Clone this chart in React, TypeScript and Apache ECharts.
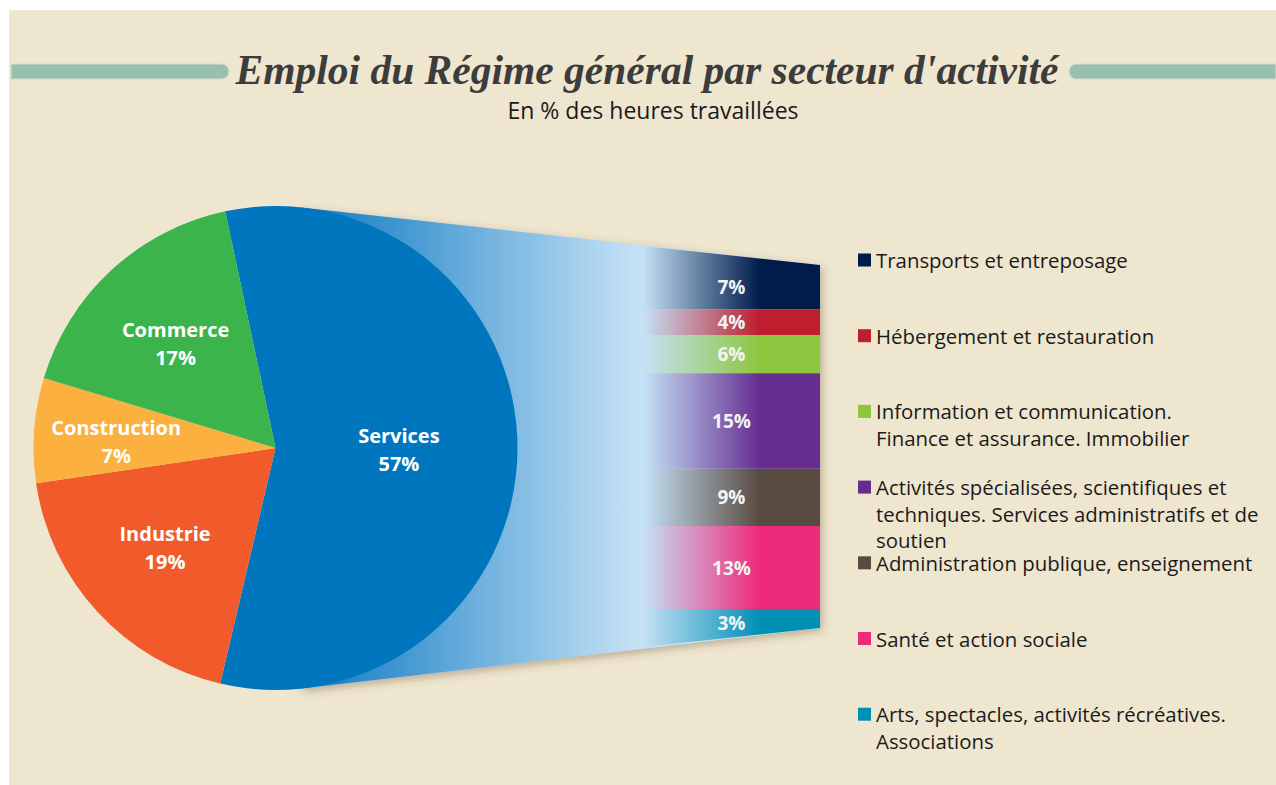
import React, { useEffect, useRef } from "react";
import * as echarts from "echarts";

// ---- Data ----
const pieCategories = ["Services", "Industrie", "Construction", "Commerce"];
const pieValues = [57, 19, 7, 17];
const pieColors = ["#0076BF", "#F15A2B", "#FBB040", "#3BB44B"];

const serviceCategories = [
  "Transports et entreposage",
  "Hébergement et restauration",
  "Information et communication.\nFinance et assurance. Immobilier",
  "Activités spécialisées, scientifiques et\ntechniques. Services administratifs et de\nsoutien",
  "Administration publique, enseignement",
  "Santé et action sociale",
  "Arts, spectacles, activités récréatives.\nAssociations",
];
const serviceValues = [7, 4, 6, 15, 9, 13, 3];
const serviceColors = ["#001C4B", "#BE1E2D", "#8DC63F", "#662D91", "#594A42", "#EE2A7B", "#0090B6"];

const titleText = "Emploi du Régime général par secteur d'activité";
const subtitleText = "En % des heures travaillées";

// ---- Layout constants ----
const W = 1276;
const H = 785;
const PIE_CX = 275.5;
const PIE_CY = 448;
const PIE_R = 242;
const BAR_LEFT = 643;
const BAR_RIGHT = 820;
const BAR_TOP = 265;
const BAR_BOTTOM = 628;
const SLANT = 19;
const labelRadius = [0.51, 0.62, 0.66, 0.61];
const labelShiftY = [0, -2, 5, 4];
const LEGEND_TOP = 260;
const LEGEND_STEP = 75.7;
const LEGEND_LINE = 26.5;

export default function App() {
  const ref = useRef<HTMLDivElement>(null);

  useEffect(() => {
    if (!ref.current) return;
    const chart = echarts.init(ref.current, null, { renderer: "svg" });

    const total = serviceValues.reduce((a, b) => a + b, 0);
    let acc = 0;
    const barData = serviceValues.map((v) => {
      const row = [0, acc, acc + v, v];
      acc += v;
      return row;
    });

    // Tangent points of the connector on the pie
    const mTop = SLANT / (BAR_RIGHT - BAR_LEFT);
    const tTop = Math.atan(mTop);
    const tangentTop = [PIE_CX + PIE_R * Math.sin(tTop), PIE_CY - PIE_R * Math.cos(tTop)];
    const tangentBottom = [PIE_CX + PIE_R * Math.sin(tTop), PIE_CY + PIE_R * Math.cos(tTop)];

    const legendGraphics: any[] = [];
    serviceCategories.forEach((name, i) => {
      const cy = LEGEND_TOP + i * LEGEND_STEP;
      legendGraphics.push({
        type: "rect",
        shape: { x: 858, y: cy - 6.5, width: 13, height: 13 },
        style: { fill: serviceColors[i] },
        z: 10,
      });
      legendGraphics.push({
        type: "text",
        x: 876,
        y: cy - LEGEND_LINE / 2,
        style: {
          text: name,
          font: "20.4px 'Open Sans'",
          fill: "#1a1a1a",
          lineHeight: LEGEND_LINE,
          align: "left",
          verticalAlign: "top",
        },
        z: 10,
      });
    });

    const option: any = {
      animation: false,
      graphic: [
        {
          type: "rect",
          shape: { x: 9, y: 10, width: W - 9, height: H - 10 },
          style: { fill: "#EFE6D0" },
          z: -10,
        },
        {
          type: "rect",
          shape: { x: 11, y: 64, width: 218, height: 15, r: [0, 8, 8, 0] },
          style: { fill: "#98BFB0", stroke: "#D3DDC8", lineWidth: 1 },
          z: 1,
        },
        {
          type: "rect",
          shape: { x: 1069, y: 64, width: W - 1069, height: 15, r: [8, 0, 0, 8] },
          style: { fill: "#98BFB0", stroke: "#D3DDC8", lineWidth: 1 },
          z: 1,
        },
        {
          type: "text",
          x: 647,
          y: 70,
          style: {
            text: titleText,
            font: "italic bold 41.5px 'Liberation Serif'",
            fill: "#3C3C3C",
            align: "center",
            verticalAlign: "middle",
          },
          z: 2,
        },
        {
          type: "text",
          x: 653,
          y: 110,
          style: {
            text: subtitleText,
            font: "23px 'Open Sans'",
            fill: "#1a1a1a",
            align: "center",
            verticalAlign: "middle",
          },
          z: 2,
        },
        {
          type: "polygon",
          shape: {
            points: [
              [PIE_CX, PIE_CY],
              tangentTop,
              [BAR_RIGHT, BAR_TOP],
              [BAR_RIGHT, BAR_BOTTOM],
              tangentBottom,
            ],
          },
          style: {
            fill: new echarts.graphic.LinearGradient(
              300, 0, 635, 0,
              [
                { offset: 0, color: "#0A78C2" },
                { offset: 1, color: "#C5E1F5" },
              ],
              true
            ),
            shadowBlur: 8,
            shadowOffsetX: 2,
            shadowOffsetY: 3,
            shadowColor: "rgba(80,60,20,0.35)",
          },
          z: 0,
        },
        ...legendGraphics,
      ],
      grid: {
        left: BAR_LEFT,
        top: BAR_TOP,
        width: BAR_RIGHT - BAR_LEFT,
        height: BAR_BOTTOM - BAR_TOP,
      },
      xAxis: { type: "value", min: 0, max: 1, show: false },
      yAxis: { type: "value", min: 0, max: total, inverse: true, show: false },
      series: [
        {
          type: "pie",
          center: [PIE_CX, PIE_CY],
          radius: PIE_R,
          startAngle: 102,
          clockwise: true,
          silent: true,
          z: 5,
          label: {
            show: true,
            position: "inside",
            formatter: "{b}\n{c}%",
            color: "#ffffff",
            fontFamily: "Open Sans",
            fontWeight: "bold",
            fontSize: 20,
            lineHeight: 28,
          },
          labelLine: { show: false },
          labelLayout: (p: any) => {
            const r = p.labelRect;
            const lx = r.x + r.width / 2;
            const ly = r.y + r.height / 2;
            const dx = lx - PIE_CX;
            const dy = ly - PIE_CY;
            const d = Math.hypot(dx, dy) || 1;
            const f = (labelRadius[p.dataIndex] * PIE_R) / d;
            return { dx: dx * (f - 1), dy: dy * (f - 1) + labelShiftY[p.dataIndex] };
          },
          itemStyle: { borderWidth: 0 },
          data: pieCategories.map((name, i) => ({
            name,
            value: pieValues[i],
            itemStyle: { color: pieColors[i] },
          })),
        },
        {
          type: "custom",
          silent: true,
          z: 3,
          encode: { x: 0, y: [1, 2] },
          data: barData,
          renderItem: (params: any, api: any) => {
            const i = params.dataIndex;
            const n = serviceValues.length;
            const tl = api.coord([0, api.value(1)]);
            const br = api.coord([1, api.value(2)]);
            const x0 = tl[0], y0 = tl[1], x1 = br[0], y1 = br[1];
            const isFirst = i === 0;
            const isLast = i === n - 1;
            const points = [
              [x0, y0 - (isFirst ? SLANT : 0)],
              [x1, y0],
              [x1, y1],
              [x0, y1 + (isLast ? SLANT : 0)],
            ];
            return {
              type: "group",
              children: [
                {
                  type: "polygon",
                  shape: { points },
                  style: {
                    fill: new echarts.graphic.LinearGradient(0, 0, 1, 0, [
                      { offset: 0, color: "#C5E1F5" },
                      { offset: 0.66, color: serviceColors[i] },
                      { offset: 1, color: serviceColors[i] },
                    ]),
                  },
                },
                {
                  type: "text",
                  style: {
                    text: api.value(3) + "%",
                    x: (x0 + x1) / 2,
                    y: (y0 + y1) / 2 + (isLast ? SLANT / 4 : 0),
                    align: "center",
                    verticalAlign: "middle",
                    fill: "#F4F4F4",
                    font: "bold 19px 'Open Sans'",
                  },
                },
              ],
            };
          },
        },
      ],
    };

    chart.setOption(option);
    return () => chart.dispose();
  }, []);

  return (
    <div
      ref={ref}
      style={{ position: "absolute", left: 0, top: 0, width: W, height: H, background: "#ffffff" }}
    />
  );
}
